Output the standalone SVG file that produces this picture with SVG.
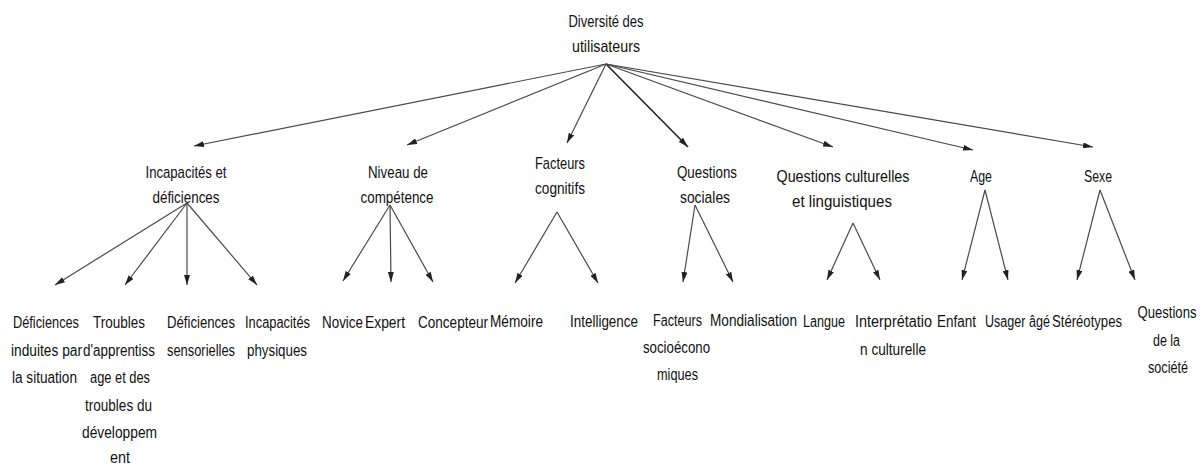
<svg xmlns="http://www.w3.org/2000/svg" width="1204" height="466" viewBox="0 0 1204 466">
<style>
text{font-family:"Liberation Sans",Arial,sans-serif;font-size:16px;fill:#111;text-anchor:middle}
text.h{font-size:17px}
.c line{stroke:#4a4a4a;stroke-width:1.2;marker-end:url(#ah)}
.c line.dk{stroke:#222;stroke-width:1.6}
</style>
<defs>
<marker id="ah" viewBox="0 0 10 6" refX="10" refY="3" markerWidth="10" markerHeight="6" orient="auto" markerUnits="userSpaceOnUse">
<path d="M0,0 L10,3 L0,6 z" fill="#222"/>
</marker>
</defs>
<rect width="1204" height="466" fill="#fff"/>
<g class="c" id="connectors">
<line x1="606" y1="64" x2="194" y2="146"/>
<line x1="606" y1="64" x2="407" y2="145"/>
<line x1="606" y1="64" x2="567" y2="143"/>
<line class="dk" x1="606" y1="64" x2="688" y2="147"/>
<line x1="606" y1="64" x2="833" y2="147"/>
<line x1="606" y1="64" x2="973" y2="150"/>
<line x1="606" y1="64" x2="1093" y2="147"/>
<line x1="187" y1="203" x2="55" y2="285"/>
<line x1="187" y1="203" x2="125" y2="285"/>
<line x1="187" y1="203" x2="187" y2="285"/>
<line x1="187" y1="203" x2="257" y2="285"/>
<line x1="390" y1="205" x2="343" y2="281"/>
<line x1="390" y1="205" x2="391" y2="282"/>
<line x1="390" y1="205" x2="433" y2="282"/>
<line x1="557" y1="212" x2="515" y2="283"/>
<line x1="557" y1="212" x2="598" y2="283"/>
<line x1="695" y1="205" x2="683" y2="282"/>
<line x1="695" y1="205" x2="733" y2="282"/>
<line x1="853" y1="223" x2="827" y2="280"/>
<line x1="853" y1="223" x2="880" y2="280"/>
<line x1="985" y1="190" x2="962" y2="280"/>
<line x1="985" y1="190" x2="1008" y2="280"/>
<line x1="1100" y1="190" x2="1077" y2="280"/>
<line x1="1100" y1="190" x2="1135" y2="280"/>
</g>
<g id="root"><text class="h" x="606" y="27" textLength="75" lengthAdjust="spacingAndGlyphs">Diversité des</text><text class="h" x="606" y="52" textLength="68" lengthAdjust="spacingAndGlyphs">utilisateurs</text></g>
<g id="incapacites"><text class="h" x="186" y="178" textLength="81" lengthAdjust="spacingAndGlyphs">Incapacités et</text><text class="h" x="186" y="203" textLength="67" lengthAdjust="spacingAndGlyphs">déficiences</text></g>
<g id="niveau"><text class="h" x="398" y="178" textLength="60" lengthAdjust="spacingAndGlyphs">Niveau de</text><text class="h" x="397" y="203" textLength="73" lengthAdjust="spacingAndGlyphs">compétence</text></g>
<g id="facteurs-cognitifs"><text class="h" x="560" y="169" textLength="50" lengthAdjust="spacingAndGlyphs">Facteurs</text><text class="h" x="560" y="194" textLength="50" lengthAdjust="spacingAndGlyphs">cognitifs</text></g>
<g id="questions-sociales"><text class="h" x="707" y="178" textLength="60" lengthAdjust="spacingAndGlyphs">Questions</text><text class="h" x="705" y="203" textLength="50" lengthAdjust="spacingAndGlyphs">sociales</text></g>
<g id="questions-culturelles"><text class="h" x="843" y="182" textLength="133" lengthAdjust="spacingAndGlyphs">Questions culturelles</text><text class="h" x="842" y="207" textLength="100" lengthAdjust="spacingAndGlyphs">et linguistiques</text></g>
<g id="age"><text class="h" x="981" y="182" textLength="22" lengthAdjust="spacingAndGlyphs">Age</text></g>
<g id="sexe"><text class="h" x="1098" y="182" textLength="28" lengthAdjust="spacingAndGlyphs">Sexe</text></g>
<g id="def-situation"><text x="46" y="328" textLength="66" lengthAdjust="spacingAndGlyphs">Déficiences</text><text x="46.5" y="355.5" textLength="71" lengthAdjust="spacingAndGlyphs">induites par</text><text x="44.5" y="383" textLength="65" lengthAdjust="spacingAndGlyphs">la situation</text></g>
<g id="troubles"><text x="119" y="328" textLength="52" lengthAdjust="spacingAndGlyphs">Troubles</text><text x="119" y="355.5" textLength="72" lengthAdjust="spacingAndGlyphs">d'apprentiss</text><text x="120" y="383" textLength="60" lengthAdjust="spacingAndGlyphs">age et des</text><text x="118.5" y="410.5" textLength="67" lengthAdjust="spacingAndGlyphs">troubles du</text><text x="119.5" y="438" textLength="75" lengthAdjust="spacingAndGlyphs">développem</text><text x="120" y="463" textLength="20" lengthAdjust="spacingAndGlyphs">ent</text></g>
<g id="def-sensorielles"><text x="201" y="328" textLength="68" lengthAdjust="spacingAndGlyphs">Déficiences</text><text x="201" y="355.5" textLength="68" lengthAdjust="spacingAndGlyphs">sensorielles</text></g>
<g id="incap-physiques"><text x="277.5" y="328" textLength="65" lengthAdjust="spacingAndGlyphs">Incapacités</text><text x="277" y="355.5" textLength="60" lengthAdjust="spacingAndGlyphs">physiques</text></g>
<g id="novice"><text x="342.5" y="328" textLength="41" lengthAdjust="spacingAndGlyphs">Novice</text></g>
<g id="expert"><text x="385" y="328" textLength="40" lengthAdjust="spacingAndGlyphs">Expert</text></g>
<g id="concepteur"><text x="453" y="328" textLength="70" lengthAdjust="spacingAndGlyphs">Concepteur</text></g>
<g id="memoire"><text x="516.5" y="327" textLength="53" lengthAdjust="spacingAndGlyphs">Mémoire</text></g>
<g id="intelligence"><text x="604" y="327" textLength="68" lengthAdjust="spacingAndGlyphs">Intelligence</text></g>
<g id="socioeco"><text x="677.5" y="326" textLength="49" lengthAdjust="spacingAndGlyphs">Facteurs</text><text x="676.5" y="353" textLength="67" lengthAdjust="spacingAndGlyphs">socioécono</text><text x="677.5" y="380" textLength="41" lengthAdjust="spacingAndGlyphs">miques</text></g>
<g id="mondialisation"><text x="753.5" y="326" textLength="87" lengthAdjust="spacingAndGlyphs">Mondialisation</text></g>
<g id="langue"><text x="824" y="327" textLength="42" lengthAdjust="spacingAndGlyphs">Langue</text></g>
<g id="interpretation"><text x="893.5" y="327" textLength="77" lengthAdjust="spacingAndGlyphs">Interprétatio</text><text x="893" y="354.5" textLength="66" lengthAdjust="spacingAndGlyphs">n culturelle</text></g>
<g id="enfant"><text x="956.5" y="327" textLength="39" lengthAdjust="spacingAndGlyphs">Enfant</text></g>
<g id="usager"><text x="1017.5" y="327" textLength="65" lengthAdjust="spacingAndGlyphs">Usager âgé</text></g>
<g id="stereotypes"><text x="1087" y="327" textLength="70" lengthAdjust="spacingAndGlyphs">Stéréotypes</text></g>
<g id="questions-societe"><text x="1167" y="318" textLength="59" lengthAdjust="spacingAndGlyphs">Questions</text><text x="1166.5" y="346" textLength="27" lengthAdjust="spacingAndGlyphs">de la</text><text x="1168" y="373" textLength="40" lengthAdjust="spacingAndGlyphs">société</text></g>
</svg>
